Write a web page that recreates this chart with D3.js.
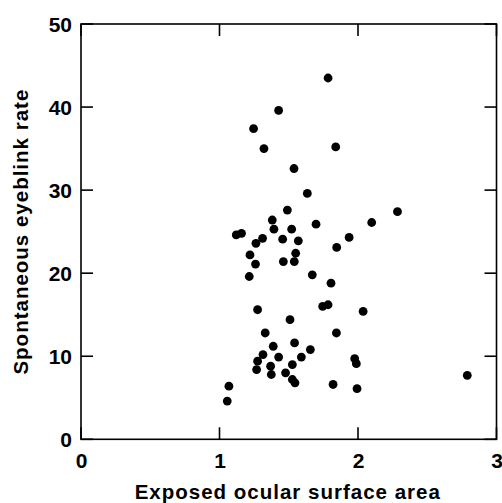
<!DOCTYPE html>
<html>
<head>
<meta charset="utf-8">
<script src="https://cdn.jsdelivr.net/npm/d3@7"></script>
<style>
  html, body { margin: 0; padding: 0; background: #fff; }
  svg { display: block; }
  text { font-family: "Liberation Sans", Arial, sans-serif; fill: #000; }
</style>
</head>
<body>
<svg id="chart" width="502" height="503"></svg>
<script>
// Exposed ocular surface area (x) vs spontaneous eyeblink rate (y)
const areaValues = [
  1.784, 1.427, 1.246, 1.321, 1.839, 1.538, 1.634, 1.490, 2.285, 2.099,
  1.697, 1.381, 1.393, 1.521, 1.121, 1.159, 1.311, 1.263, 1.456, 1.569,
  1.936, 1.846, 1.220, 1.550, 1.260, 1.461, 1.540, 1.215, 1.670, 1.805,
  1.745, 1.784, 1.275, 2.037, 1.509, 1.330, 1.844, 1.542, 1.388, 1.656,
  1.314, 1.427, 1.591, 1.976, 1.988, 1.275, 1.526, 1.369, 1.268, 1.477,
  1.374, 1.526, 1.545, 1.820, 1.993, 2.789, 1.068, 1.056
];
const blinkValues = [
  43.5, 39.6, 37.4, 35.0, 35.2, 32.6, 29.6, 27.6, 27.4, 26.1,
  25.9, 26.4, 25.3, 25.3, 24.6, 24.8, 24.2, 23.6, 24.1, 23.9,
  24.3, 23.1, 22.2, 22.4, 21.1, 21.4, 21.4, 19.6, 19.8, 18.8,
  16.0, 16.2, 15.6, 15.4, 14.4, 12.8, 12.8, 11.6, 11.2, 10.8,
  10.2, 9.9, 9.9, 9.7, 9.1, 9.4, 9.0, 8.8, 8.4, 8.0,
  7.8, 7.2, 6.8, 6.6, 6.1, 7.7, 6.4, 4.6
];
const xTicks = [0, 1, 2, 3];
const yTicks = [0, 10, 20, 30, 40, 50];
const xTitle = "Exposed ocular surface area";
const yTitle = "Spontaneous eyeblink rate";

(function () {
const points = areaValues.map((a, i) => ({ x: a, y: blinkValues[i] }));

const svg = d3.select("#chart");
const pLeft = 81, pRight = 496.5, pTop = 24, pBottom = 439.3;
const FONT = "'Liberation Sans', Arial, sans-serif";

const x = d3.scaleLinear().domain([0, 3]).range([pLeft, pRight]);
const y = d3.scaleLinear().domain([0, 50]).range([pBottom, pTop]);

const tickLen = 12;

svg.append("g").selectAll("circle")
  .data(points).enter().append("circle")
  .attr("cx", d => x(d.x))
  .attr("cy", d => y(d.y))
  .attr("r", 4.4)
  .attr("fill", "#000");

function styleAxis(g) {
  g.select(".domain").remove();
  g.selectAll(".tick line").remove();
}

// Axis labels via d3 axes
const gB = svg.append("g").attr("transform", `translate(0,${pBottom})`)
  .call(d3.axisBottom(x).tickValues(xTicks).tickFormat(d3.format("d")));
styleAxis(gB);
gB.selectAll(".tick text")
  .attr("y", 468 - pBottom).attr("dy", 0)
  .attr("font-size", 21).attr("font-weight", "bold")
  .attr("font-family", FONT).attr("fill", "#000");

const gL = svg.append("g").attr("transform", `translate(${pLeft},0)`)
  .call(d3.axisLeft(y).tickValues(yTicks).tickFormat(d3.format("d")));
styleAxis(gL);
gL.selectAll(".tick text")
  .attr("x", -9).attr("dy", "0.36em")
  .attr("font-size", 21).attr("font-weight", "bold")
  .attr("font-family", FONT).attr("fill", "#000");

// Inward tick marks on all four sides
const tg = svg.append("g").attr("stroke", "#000").attr("stroke-width", 1.6);
tg.selectAll("line.xb").data(xTicks).enter().append("line")
  .attr("x1", d => x(d)).attr("x2", d => x(d))
  .attr("y1", pBottom).attr("y2", pBottom - tickLen);
tg.selectAll("line.xt").data(xTicks).enter().append("line")
  .attr("x1", d => x(d)).attr("x2", d => x(d))
  .attr("y1", pTop).attr("y2", pTop + tickLen);
tg.selectAll("line.yl").data(yTicks).enter().append("line")
  .attr("x1", pLeft).attr("x2", pLeft + tickLen)
  .attr("y1", d => y(d)).attr("y2", d => y(d));
tg.selectAll("line.yr").data(yTicks).enter().append("line")
  .attr("x1", pRight).attr("x2", pRight - tickLen)
  .attr("y1", d => y(d)).attr("y2", d => y(d));

svg.append("rect")
  .attr("x", pLeft).attr("y", pTop)
  .attr("width", pRight - pLeft).attr("height", pBottom - pTop)
  .attr("fill", "none").attr("stroke", "#000").attr("stroke-width", 1.6);

svg.append("text")
  .attr("x", (pLeft + pRight) / 2 - 1)
  .attr("y", 498.5)
  .attr("text-anchor", "middle")
  .attr("font-size", 20.5)
  .attr("font-weight", "bold")
  .attr("letter-spacing", 1)
  .text(xTitle);

svg.append("text")
  .attr("transform", `translate(28,${(pTop + pBottom) / 2}) rotate(-90)`)
  .attr("text-anchor", "middle")
  .attr("font-size", 20.5)
  .attr("font-weight", "bold")
  .attr("letter-spacing", 1)
  .text(yTitle);
})();
</script>
</body>
</html>
